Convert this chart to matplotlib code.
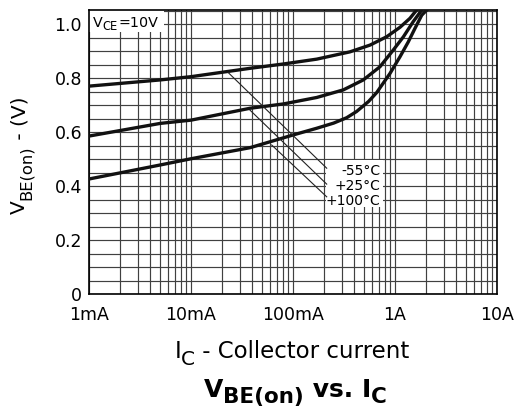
import matplotlib
matplotlib.use("Agg")
import matplotlib.pyplot as plt
from matplotlib.ticker import FixedLocator, MultipleLocator, LogLocator, NullFormatter
from matplotlib.patches import Rectangle
from matplotlib.transforms import IdentityTransform

plt.rcParams['font.family'] = ['DejaVu Sans']

# ---- data (collector current in A, VBE(on) in V) ----
ic_m55 = [0.001, 0.005, 0.010, 0.0379, 0.0804, 0.171, 0.362, 0.569, 0.829, 1.12, 1.40, 1.63]
vbe_m55 = [0.770, 0.793, 0.805, 0.836, 0.852, 0.870, 0.897, 0.922, 0.953, 0.988, 1.021, 1.052]

ic_25 = [0.001, 0.005, 0.010, 0.0379, 0.0804, 0.171, 0.311, 0.489, 0.713, 0.963, 1.21, 1.51, 1.83]
vbe_25 = [0.585, 0.632, 0.644, 0.688, 0.704, 0.728, 0.756, 0.793, 0.842, 0.904, 0.953, 1.009, 1.052]

ic_100 = [0.001, 0.005, 0.010, 0.0379, 0.100, 0.171, 0.250, 0.336, 0.420, 0.550, 0.661, 0.893,
          1.12, 1.35, 1.57, 1.83, 2.05]
vbe_100 = [0.426, 0.478, 0.501, 0.542, 0.589, 0.614, 0.633, 0.653, 0.676, 0.713, 0.746, 0.817,
           0.879, 0.934, 0.984, 1.033, 1.052]

x_ticks = [0.001, 0.01, 0.1, 1, 10]
x_ticklabels = ['1mA', '10mA', '100mA', '1A', '10A']
y_ticks = [0, 0.2, 0.4, 0.6, 0.8, 1.0]
y_ticklabels = ['0', '0.2', '0.4', '0.6', '0.8', '1.0']

temp_labels = ['-55°C', '+25°C', '+100°C']
leader_start = [(0.0232, 0.820), (0.0379, 0.681), (0.0618, 0.552)]
leader_end = [(0.214, 0.466), (0.214, 0.407), (0.214, 0.360)]
label_pos = [(0.72, 0.457), (0.72, 0.400), (0.72, 0.344)]

W, H = 516, 412
fig = plt.figure(figsize=(W / 100, H / 100), dpi=100)
ax = fig.add_axes([89 / W, 1 - 294 / H, 408 / W, 284 / H])

ax.set_xscale('log')
ax.set_xlim(0.001, 10)
ax.set_ylim(0, 1.052)

ax.xaxis.set_major_locator(FixedLocator(x_ticks))
ax.set_xticklabels(x_ticklabels)
ax.xaxis.set_minor_locator(LogLocator(base=10, subs=range(2, 10)))
ax.xaxis.set_minor_formatter(NullFormatter())
ax.yaxis.set_major_locator(FixedLocator(y_ticks))
ax.set_yticklabels(y_ticklabels)
ax.yaxis.set_minor_locator(MultipleLocator(0.05))

ax.tick_params(which='both', length=0, labelsize=12.5)
ax.tick_params(axis='x', pad=9)
ax.tick_params(axis='y', pad=5)

ax.grid(which='both', color='#404040', linewidth=0.85)
ax.set_axisbelow(True)
for s in ax.spines.values():
    s.set_linewidth(1.2)
    s.set_color('black')

for ic, v in [(ic_m55, vbe_m55), (ic_25, vbe_25), (ic_100, vbe_100)]:
    ax.plot(ic, v, color='#111111', linewidth=2.4, solid_joinstyle='round', zorder=3)

# white box behind temperature labels
ax.add_patch(Rectangle((0.581, 0.305), 0.14, 0.168, transform=ax.transAxes,
                       facecolor='white', edgecolor='none', zorder=2))
for (xs, ys), (xe, ye) in zip(leader_start, leader_end):
    ax.plot([xs, xe], [ys, ye], color='#222222', linewidth=0.8, zorder=3)
for lab, (xp, yp) in zip(temp_labels, label_pos):
    ax.text(xp, yp, lab, ha='right', va='center', fontsize=10, zorder=4)

# white box behind VCE label
ax.add_patch(Rectangle((0, 0.9225), 0.184, 0.08, transform=ax.transAxes,
                       facecolor='white', edgecolor='none', zorder=2, clip_on=False))

renderer = fig.canvas.get_renderer()


def rich(x, y, pieces, rotation=0, align='center'):
    """pieces: (text, size_pt, drop_pt, weight). x,y: display px of anchor on baseline."""
    arts, widths = [], []
    for s, size, drop, weight in pieces:
        t = fig.text(0, 0, s, fontsize=size, fontweight=weight, rotation=rotation,
                     rotation_mode='anchor', ha='left', va='baseline',
                     transform=IdentityTransform(), zorder=5)
        bb = t.get_window_extent(renderer)
        arts.append(t)
        widths.append(bb.width if rotation == 0 else bb.height)
    total = sum(widths)
    start = -total / 2 if align == 'center' else 0
    pos = start
    for t, w, (s, size, drop, weight) in zip(arts, widths, pieces):
        d = drop * 100 / 72
        if rotation == 0:
            t.set_position((x + pos, y - d))
        else:
            t.set_position((x + d, y + pos))
        pos += w


rich(93, H - 27, [('V', 10.3, 0, 'normal'), ('CE', 8.3, 2.5, 'normal'),
                  ('=10V', 10.3, 0, 'normal')], align='left')
rich(25, H - 155, [('V', 14.5, 0, 'normal'), ('BE(on)', 11.8, 4.5, 'normal'),
                   (' - (V)', 14.5, 0, 'normal')], rotation=90)
rich(292, H - 358, [('I', 16.5, 0, 'normal'), ('C', 14.5, 5.0, 'normal'),
                    (' - Collector current', 16.5, 0, 'normal')])
rich(295, H - 397, [('V', 18, 0, 'bold'), ('BE(on)', 15.5, 4.0, 'bold'),
                    (' vs. ', 18, 0, 'bold'), ('I', 18, 0, 'bold'),
                    ('C', 15.5, 4.0, 'bold')])

fig.savefig('out.png', dpi=100)
